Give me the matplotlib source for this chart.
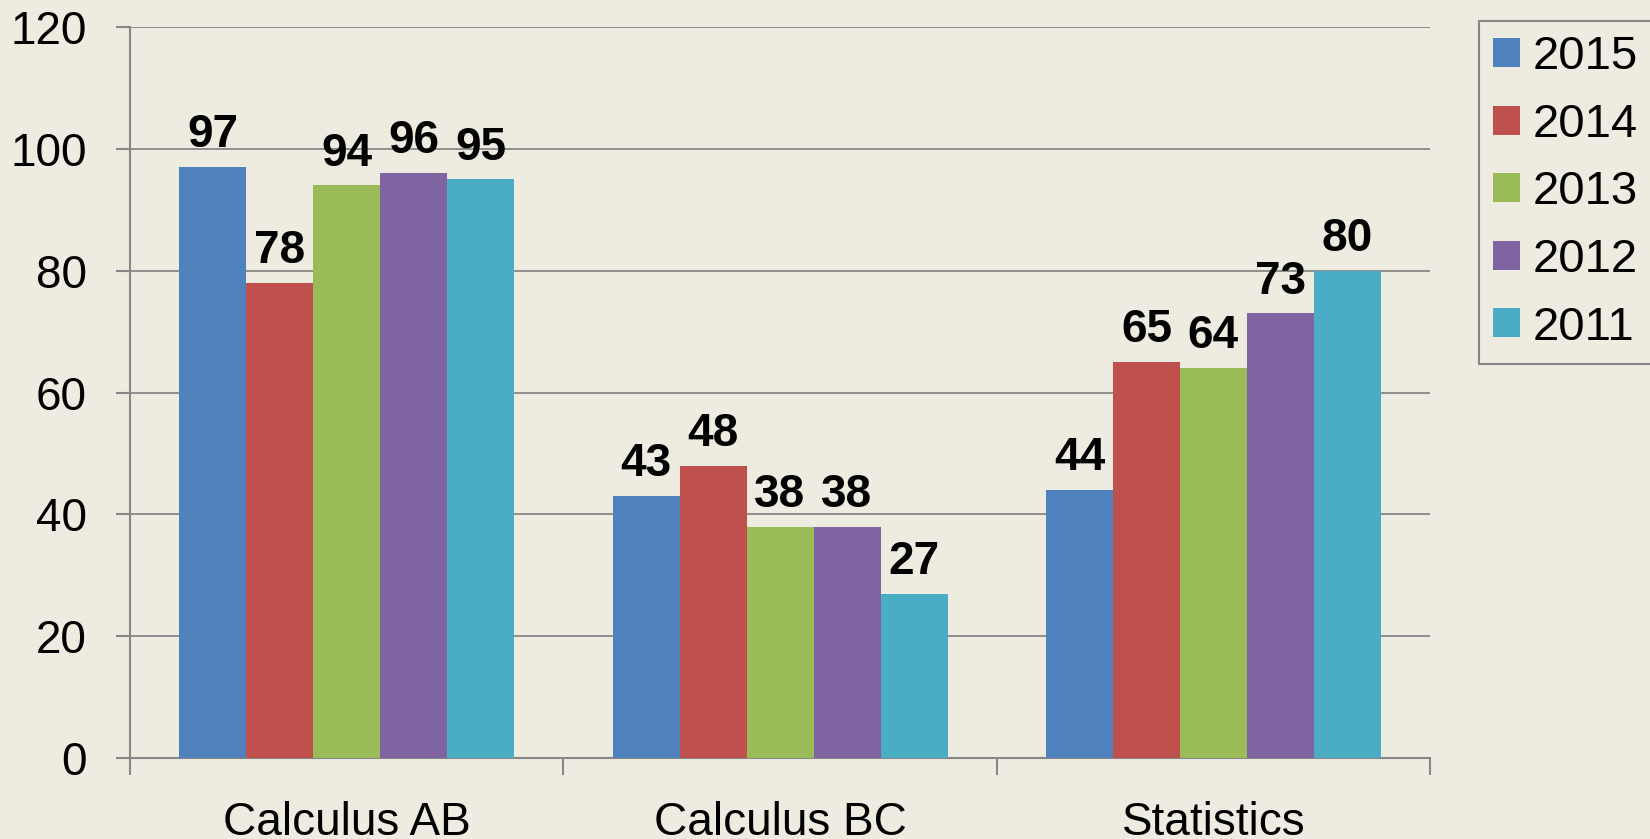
import numpy as np
import matplotlib.pyplot as plt
from matplotlib.ticker import FixedLocator

plt.rcParams['font.family'] = ['Liberation Sans', 'DejaVu Sans']

# data
subjects = ['Calculus AB', 'Calculus BC', 'Statistics']
years = ['2015', '2014', '2013', '2012', '2011']
v2015 = [97, 43, 44]
v2014 = [78, 48, 65]
v2013 = [94, 38, 64]
v2012 = [96, 38, 73]
v2011 = [95, 27, 80]
series = [v2015, v2014, v2013, v2012, v2011]
colors = ['#4F81BD', '#C0504D', '#9BBB59', '#8064A2', '#4BACC6']

bg = '#EEEBE0'
grey = '#878787'

fig = plt.figure(figsize=(16.5, 8.39), dpi=100, facecolor=bg)
ax = fig.add_axes([0.0788, 0.0965, 0.7879, 0.8713], facecolor=bg)

x = np.arange(len(subjects))
w = 0.1546
for i, (vals, yr, c) in enumerate(zip(series, years, colors)):
    bars = ax.bar(x + (i - 2) * w, vals, w, color=c, label=yr, zorder=3)
    ax.bar_label(bars, padding=7, fontsize=33, fontweight='bold')

ax.set_xlim(-0.5, 2.5)
ax.set_ylim(0, 120)
ax.set_yticks(range(0, 121, 20))
ax.yaxis.grid(True, color=grey, lw=1.3, zorder=0)
ax.set_axisbelow(True)

ax.set_xticks(x)
ax.set_xticklabels(subjects)
ax.xaxis.set_minor_locator(FixedLocator([-0.5, 0.5, 1.5, 2.5]))
ax.tick_params(axis='x', which='major', length=0, pad=31, labelsize=33)
ax.tick_params(axis='x', which='minor', length=12, width=1.5, color=grey)
ax.tick_params(axis='y', length=10, width=1.5, color=grey, pad=21, labelsize=33)

for s in ['top', 'right']:
    ax.spines[s].set_visible(False)
for s in ['left', 'bottom']:
    ax.spines[s].set_color(grey)
    ax.spines[s].set_linewidth(1.5)

leg = fig.legend(loc='upper left', bbox_to_anchor=(1479 / 1650, 1 - 21 / 839),
                 fontsize=34, handlelength=0.57, handleheight=0.57,
                 handletextpad=0.26, labelspacing=0.5, borderpad=0.3,
                 borderaxespad=0, fancybox=False, framealpha=1,
                 facecolor=bg, edgecolor=grey)
leg.get_frame().set_linewidth(1.5)

fig.savefig('out.png', dpi=100, facecolor=bg)
